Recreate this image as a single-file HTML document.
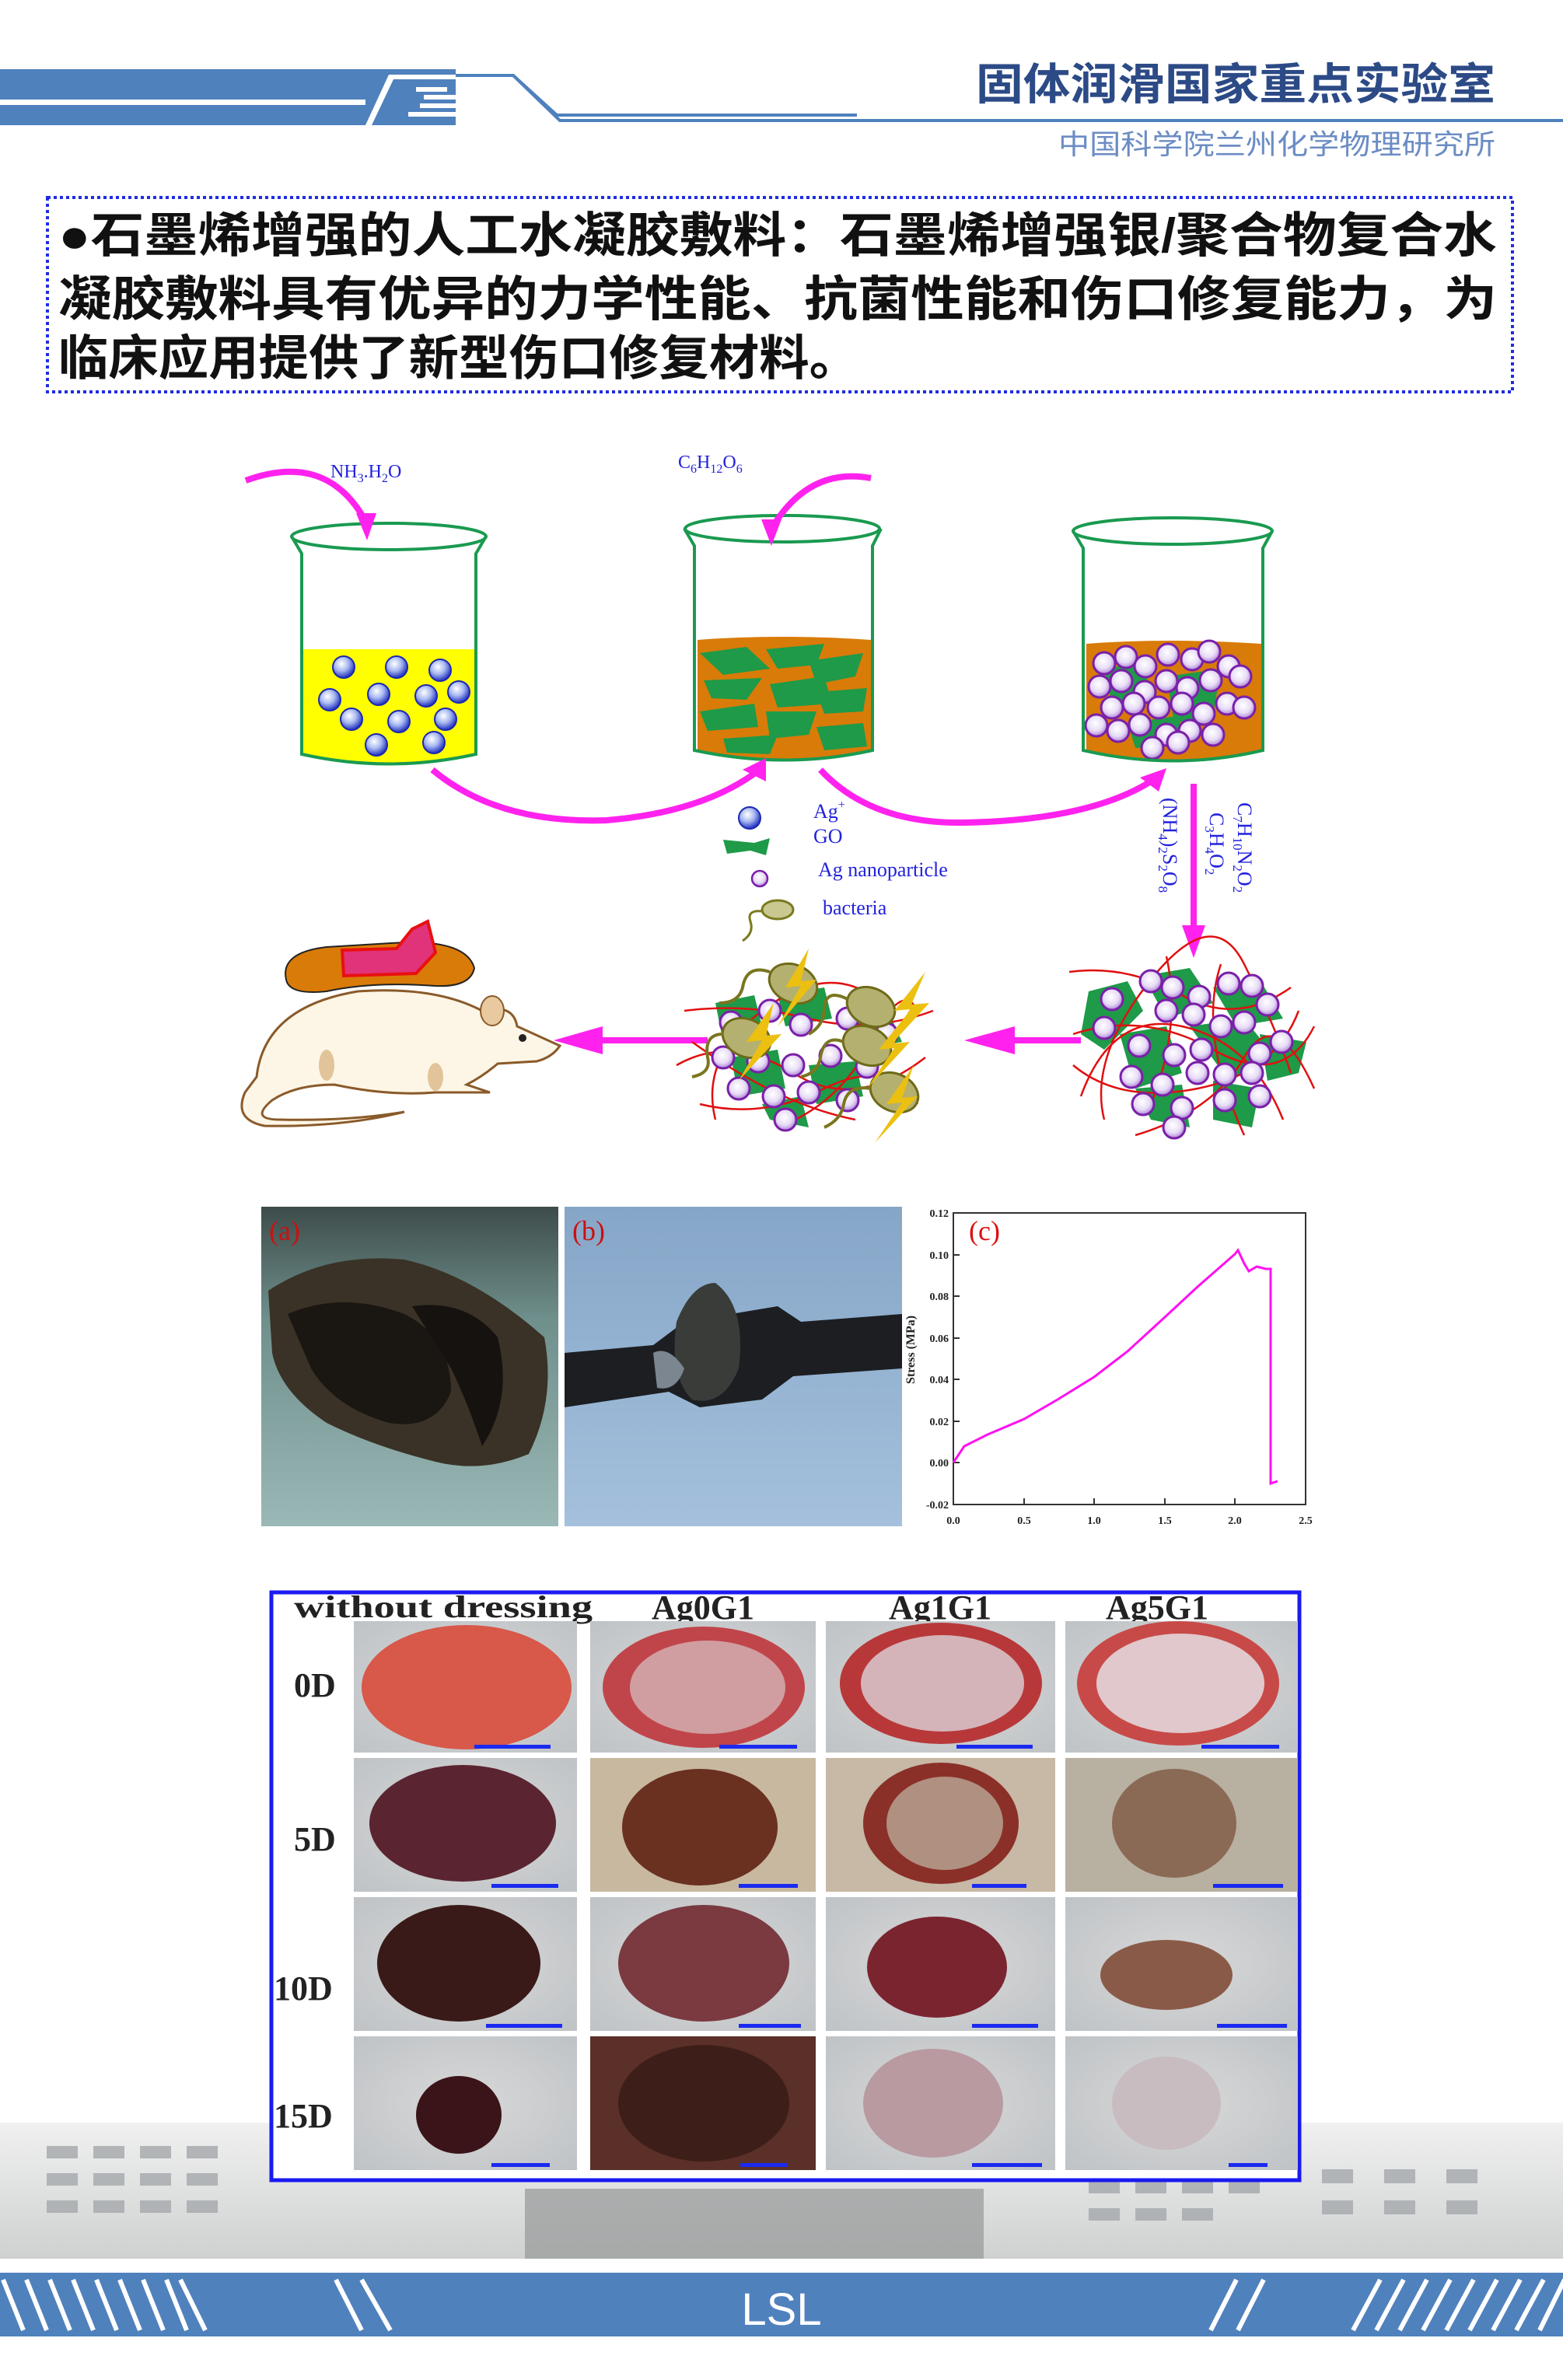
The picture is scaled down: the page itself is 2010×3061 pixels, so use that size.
<!DOCTYPE html>
<html><head><meta charset="utf-8">
<style>
html,body{margin:0;padding:0;background:#fff;}
svg{display:block;}
.cn{font-family:"Liberation Sans","Noto Sans CJK SC",sans-serif;}
.sr{font-family:"Liberation Serif",serif;}
</style></head>
<body>
<svg width="2010" height="3061" viewBox="0 0 2010 3061" xmlns="http://www.w3.org/2000/svg">
<defs>
<radialGradient id="bb" cx="40%" cy="35%" r="65%"><stop offset="0" stop-color="#fff"/><stop offset="0.5" stop-color="#a8b8f0"/><stop offset="1" stop-color="#2030c0"/></radialGradient>
<radialGradient id="pb" cx="45%" cy="40%" r="65%"><stop offset="0" stop-color="#fff"/><stop offset="0.55" stop-color="#e8dcf6"/><stop offset="1" stop-color="#a070d0"/></radialGradient>
<linearGradient id="pa" x1="0" y1="0" x2="0" y2="1"><stop offset="0" stop-color="#3d4c4a"/><stop offset="0.35" stop-color="#6f8f8c"/><stop offset="1" stop-color="#9ab8b6"/></linearGradient>
<linearGradient id="pbg" x1="0" y1="0" x2="0" y2="1"><stop offset="0" stop-color="#86a6c8"/><stop offset="1" stop-color="#a4c0dc"/></linearGradient>
<radialGradient id="fur" cx="50%" cy="50%" r="70%"><stop offset="0" stop-color="#d8d8d8"/><stop offset="1" stop-color="#bfc3c6"/></radialGradient>
<linearGradient id="bld" x1="0" y1="0" x2="0" y2="1"><stop offset="0" stop-color="#f0f0f0"/><stop offset="1" stop-color="#cfd1d1"/></linearGradient>
<g id="ball"><circle r="14" fill="url(#pb)" stroke="#7a20a8" stroke-width="3"/></g>
<g id="bball"><circle r="14" fill="url(#bb)" stroke="#1a28b0" stroke-width="2"/></g>
</defs>

<!-- HEADER -->
<rect x="0" y="89" width="586" height="72" fill="#4f81bd"/>
<rect x="0" y="128" width="470" height="7" fill="#fff"/>
<polygon points="470,161 500,96 586,96 586,102 506,102 478,161" fill="#fff"/>
<rect x="535" y="112" width="40" height="6" fill="#fff"/>
<rect x="545" y="122" width="45" height="6" fill="#fff"/>
<rect x="540" y="133" width="60" height="6" fill="#fff"/>
<rect x="525" y="144" width="80" height="6" fill="#fff"/>
<polyline points="586,97 660,97 716,148 1102,148" fill="none" stroke="#4f81bd" stroke-width="4"/>
<polyline points="660,97 720,155 2010,155" fill="none" stroke="#4f81bd" stroke-width="4"/>
<text x="1923" y="128" text-anchor="end" class="cn" font-size="56" font-weight="bold" fill="#2c4a86" textLength="668" lengthAdjust="spacingAndGlyphs">固体润滑国家重点实验室</text>
<text x="1923" y="198" text-anchor="end" class="cn" font-size="36" fill="#6b8cc4" textLength="562" lengthAdjust="spacingAndGlyphs">中国科学院兰州化学物理研究所</text>

<!-- TEXT BOX -->
<rect x="61" y="254" width="1884" height="250" fill="none" stroke="#1f2ee0" stroke-width="4" stroke-dasharray="4,4"/>
<text x="75" y="324" class="cn" font-size="62" font-weight="bold" fill="#111" textLength="1850" lengthAdjust="spacingAndGlyphs">●石墨烯增强的人工水凝胶敷料：石墨烯增强银/聚合物复合水</text>
<text x="75" y="406" class="cn" font-size="62" font-weight="bold" fill="#111" textLength="1850" lengthAdjust="spacingAndGlyphs">凝胶敷料具有优异的力学性能、抗菌性能和伤口修复能力，为</text>
<text x="75" y="482" class="cn" font-size="62" font-weight="bold" fill="#111" textLength="1030" lengthAdjust="spacingAndGlyphs">临床应用提供了新型伤口修复材料。</text>

<!-- SCHEMATIC -->
<path d="M390,835 L610,835 L610,970 Q500,992 390,970 Z" fill="#ffff00"/>
<path d="M375,690 L388,712 L388,970 Q500,995 612,970 L612,712 L625,690" fill="none" stroke="#1a9a50" stroke-width="4"/>
<ellipse cx="500" cy="690" rx="125" ry="17" fill="none" stroke="#1a9a50" stroke-width="4"/>
<g>
<use href="#bball" x="442" y="858"/><use href="#bball" x="510" y="858"/><use href="#bball" x="566" y="862"/>
<use href="#bball" x="424" y="900"/><use href="#bball" x="487" y="893"/><use href="#bball" x="548" y="895"/><use href="#bball" x="590" y="890"/>
<use href="#bball" x="452" y="925"/><use href="#bball" x="513" y="928"/><use href="#bball" x="573" y="925"/>
<use href="#bball" x="484" y="958"/><use href="#bball" x="558" y="955"/>
</g>
<path d="M897,823 Q1000,815 1120,823 L1120,965 Q1010,988 897,965 Z" fill="#d97b08"/>
<g fill="#1e9a48">
<polygon points="900,840 960,832 990,860 930,868"/><polygon points="985,835 1060,828 1050,855 1000,860"/>
<polygon points="1040,850 1110,840 1100,870 1050,880"/><polygon points="905,875 980,872 960,900 915,898"/>
<polygon points="990,880 1060,870 1070,905 1000,910"/><polygon points="900,915 970,905 975,935 910,940"/>
<polygon points="985,915 1050,915 1040,945 990,950"/><polygon points="1050,890 1115,885 1110,915 1060,918"/>
<polygon points="930,950 1000,945 990,970 935,968"/><polygon points="1050,935 1110,930 1115,960 1060,965"/>
</g>
<path d="M880,680 L893,702 L893,965 Q1010,990 1122,965 L1122,702 L1133,680" fill="none" stroke="#1a9a50" stroke-width="4"/>
<ellipse cx="1006" cy="680" rx="125" ry="17" fill="none" stroke="#1a9a50" stroke-width="4"/>
<path d="M1397,828 Q1500,820 1622,828 L1622,965 Q1510,990 1397,965 Z" fill="#d97b08"/>
<g fill="#1e9a48"><polygon points="1420,860 1480,850 1470,900 1430,905"/><polygon points="1500,870 1570,860 1560,920 1510,930"/><polygon points="1450,930 1520,920 1510,960 1460,962"/></g>
<g>
<use href="#ball" x="1420" y="853"/><use href="#ball" x="1448" y="845"/><use href="#ball" x="1473" y="857"/><use href="#ball" x="1502" y="842"/><use href="#ball" x="1533" y="848"/><use href="#ball" x="1555" y="838"/><use href="#ball" x="1580" y="857"/>
<use href="#ball" x="1414" y="883"/><use href="#ball" x="1442" y="876"/><use href="#ball" x="1472" y="890"/><use href="#ball" x="1500" y="876"/><use href="#ball" x="1527" y="885"/><use href="#ball" x="1557" y="875"/><use href="#ball" x="1595" y="870"/>
<use href="#ball" x="1430" y="910"/><use href="#ball" x="1458" y="905"/><use href="#ball" x="1490" y="910"/><use href="#ball" x="1520" y="905"/><use href="#ball" x="1548" y="918"/><use href="#ball" x="1578" y="905"/><use href="#ball" x="1600" y="910"/>
<use href="#ball" x="1410" y="933"/><use href="#ball" x="1438" y="940"/><use href="#ball" x="1466" y="932"/><use href="#ball" x="1500" y="945"/><use href="#ball" x="1530" y="940"/><use href="#ball" x="1560" y="945"/>
<use href="#ball" x="1482" y="962"/><use href="#ball" x="1515" y="955"/>
</g>
<path d="M1380,683 L1393,705 L1393,965 Q1510,992 1624,965 L1624,705 L1636,683" fill="none" stroke="#1a9a50" stroke-width="4"/>
<ellipse cx="1508" cy="683" rx="128" ry="17" fill="none" stroke="#1a9a50" stroke-width="4"/>

<g fill="none" stroke="#ff22ee" stroke-width="8">
<path d="M316,618 Q420,580 470,670"/>
<path d="M1120,615 Q1040,600 992,680"/>
<path d="M556,990 Q640,1060 780,1055 Q900,1045 970,995"/>
<path d="M1055,990 Q1120,1060 1240,1058 Q1400,1055 1480,1005"/>
<line x1="1535" y1="1008" x2="1535" y2="1195"/>
<line x1="1390" y1="1338" x2="1300" y2="1338"/>
<line x1="910" y1="1338" x2="770" y2="1338"/>
</g>
<g fill="#ff22ee">
<polygon points="458,660 484,660 472,695"/>
<polygon points="979,668 1005,668 992,702"/>
<polygon points="955,990 985,975 985,1005"/>
<polygon points="1466,1000 1500,988 1490,1018"/>
<polygon points="1520,1190 1550,1190 1535,1232"/>
<polygon points="1305,1320 1305,1356 1240,1338"/>
<polygon points="775,1320 775,1356 712,1338"/>
</g>
<g class="sr" fill="#2222dd">
<text x="425" y="614" font-size="24">NH<tspan font-size="16" dy="6">3</tspan><tspan dy="-6">.H</tspan><tspan font-size="16" dy="6">2</tspan><tspan dy="-6">O</tspan></text>
<text x="872" y="602" font-size="24">C<tspan font-size="16" dy="6">6</tspan><tspan dy="-6">H</tspan><tspan font-size="16" dy="6">12</tspan><tspan dy="-6">O</tspan><tspan font-size="16" dy="6">6</tspan></text>
<text x="1046" y="1052" font-size="26">Ag<tspan font-size="16" dy="-12">+</tspan></text>
<text x="1046" y="1084" font-size="26">GO</text>
<text x="1052" y="1127" font-size="26">Ag nanoparticle</text>
<text x="1058" y="1176" font-size="26">bacteria</text>
<text transform="translate(1592,1032) rotate(90)" font-size="26">C<tspan font-size="17" dy="6">7</tspan><tspan dy="-6">H</tspan><tspan font-size="17" dy="6">10</tspan><tspan dy="-6">N</tspan><tspan font-size="17" dy="6">2</tspan><tspan dy="-6">O</tspan><tspan font-size="17" dy="6">2</tspan></text>
<text transform="translate(1556,1045) rotate(90)" font-size="26">C<tspan font-size="17" dy="6">3</tspan><tspan dy="-6">H</tspan><tspan font-size="17" dy="6">4</tspan><tspan dy="-6">O</tspan><tspan font-size="17" dy="6">2</tspan></text>
<text transform="translate(1496,1026) rotate(90)" font-size="26">(NH<tspan font-size="17" dy="6">4</tspan><tspan dy="-6">)</tspan><tspan font-size="17" dy="6">2</tspan><tspan dy="-6">S</tspan><tspan font-size="17" dy="6">2</tspan><tspan dy="-6">O</tspan><tspan font-size="17" dy="6">8</tspan></text>
</g>
<use href="#bball" x="964" y="1052"/>
<polygon points="930,1080 970,1084 990,1078 985,1100 965,1094 935,1098" fill="#1e9a48"/>
<circle cx="977" cy="1130" r="10" fill="url(#pb)" stroke="#7a20a8" stroke-width="2.5"/>
<ellipse cx="1000" cy="1170" rx="20" ry="12" fill="#c8c890" stroke="#7a7a20" stroke-width="3"/>
<path d="M980,1172 Q960,1170 965,1185 Q970,1200 955,1210" fill="none" stroke="#7a7a20" stroke-width="3"/>

<!-- right gel -->
<g>
<g fill="#1e9a48">
<polygon points="1400,1275 1450,1262 1470,1300 1420,1350 1390,1330"/>
<polygon points="1470,1255 1530,1245 1560,1290 1500,1310"/>
<polygon points="1560,1270 1620,1260 1650,1310 1590,1320"/>
<polygon points="1440,1330 1500,1320 1520,1380 1460,1400"/>
<polygon points="1530,1320 1600,1310 1640,1360 1580,1390"/>
<polygon points="1620,1330 1680,1340 1670,1380 1630,1390"/>
<polygon points="1460,1400 1520,1395 1530,1450 1480,1440"/>
<polygon points="1560,1390 1620,1400 1610,1450 1560,1440"/>
</g>
<g fill="none" stroke="#e01010" stroke-width="2.5">
<path d="M1375,1250 Q1450,1240 1520,1280 T1660,1270"/>
<path d="M1380,1330 Q1470,1300 1560,1350 T1690,1320"/>
<path d="M1390,1410 Q1430,1300 1520,1320 T1650,1440"/>
<path d="M1420,1440 Q1400,1360 1480,1260 T1600,1240 T1660,1380"/>
<path d="M1460,1460 Q1560,1430 1600,1360 T1690,1400"/>
<path d="M1380,1370 Q1440,1420 1540,1400 T1670,1300"/>
<path d="M1500,1230 Q1520,1320 1480,1420"/>
<path d="M1570,1240 Q1540,1330 1600,1460"/>
</g>
<use href="#ball" x="1430" y="1285"/><use href="#ball" x="1480" y="1262"/><use href="#ball" x="1508" y="1270"/><use href="#ball" x="1542" y="1282"/><use href="#ball" x="1580" y="1265"/><use href="#ball" x="1610" y="1268"/><use href="#ball" x="1630" y="1292"/>
<use href="#ball" x="1420" y="1322"/><use href="#ball" x="1500" y="1300"/><use href="#ball" x="1535" y="1305"/><use href="#ball" x="1570" y="1320"/><use href="#ball" x="1600" y="1315"/><use href="#ball" x="1648" y="1340"/>
<use href="#ball" x="1465" y="1345"/><use href="#ball" x="1510" y="1357"/><use href="#ball" x="1545" y="1350"/><use href="#ball" x="1620" y="1355"/>
<use href="#ball" x="1455" y="1385"/><use href="#ball" x="1495" y="1395"/><use href="#ball" x="1540" y="1380"/><use href="#ball" x="1575" y="1382"/><use href="#ball" x="1610" y="1380"/>
<use href="#ball" x="1470" y="1420"/><use href="#ball" x="1520" y="1425"/><use href="#ball" x="1575" y="1415"/><use href="#ball" x="1620" y="1410"/>
<use href="#ball" x="1510" y="1450"/>
</g>

<!-- middle gel -->
<g>
<g fill="#1e9a48">
<polygon points="920,1290 970,1280 980,1320 930,1340"/>
<polygon points="1000,1280 1060,1270 1070,1310 1010,1320"/>
<polygon points="1080,1300 1140,1295 1160,1340 1100,1350"/>
<polygon points="940,1360 1000,1350 1010,1400 950,1410"/>
<polygon points="1040,1370 1100,1365 1110,1410 1050,1420"/>
<polygon points="980,1420 1030,1410 1040,1450 990,1440"/>
</g>
<g fill="none" stroke="#e01010" stroke-width="2.5">
<path d="M880,1300 Q960,1290 1040,1310 T1200,1300"/>
<path d="M870,1370 Q940,1330 1020,1380 T1190,1360"/>
<path d="M900,1420 Q980,1440 1060,1400 T1180,1420"/>
<path d="M920,1440 Q900,1360 980,1300 T1120,1280"/>
<path d="M1000,1450 Q1080,1420 1120,1340 T1180,1300"/>
<path d="M890,1340 Q1000,1420 1100,1440"/>
</g>
<use href="#ball" x="940" y="1315"/><use href="#ball" x="990" y="1300"/><use href="#ball" x="1030" y="1318"/><use href="#ball" x="1090" y="1310"/><use href="#ball" x="1140" y="1330"/>
<use href="#ball" x="930" y="1360"/><use href="#ball" x="975" y="1365"/><use href="#ball" x="1020" y="1370"/><use href="#ball" x="1068" y="1358"/><use href="#ball" x="1115" y="1372"/>
<use href="#ball" x="950" y="1400"/><use href="#ball" x="995" y="1410"/><use href="#ball" x="1040" y="1405"/><use href="#ball" x="1090" y="1415"/><use href="#ball" x="1010" y="1440"/>
<g fill="#b4b070" stroke="#6e6a18" stroke-width="3">
<ellipse cx="1020" cy="1265" rx="32" ry="24" transform="rotate(25 1020 1265)"/>
<ellipse cx="1120" cy="1295" rx="32" ry="24" transform="rotate(25 1120 1295)"/>
<ellipse cx="960" cy="1335" rx="32" ry="24" transform="rotate(25 960 1335)"/>
<ellipse cx="1115" cy="1345" rx="32" ry="24" transform="rotate(25 1115 1345)"/>
<ellipse cx="1150" cy="1405" rx="32" ry="24" transform="rotate(25 1150 1405)"/>
</g>
<g fill="#ecc010">
<polygon points="1040,1220 1010,1270 1030,1268 1000,1320 1050,1260 1030,1262"/>
<polygon points="1190,1250 1150,1300 1170,1298 1140,1350 1195,1290 1172,1292"/>
<polygon points="995,1290 960,1340 980,1338 950,1390 1005,1330 985,1332"/>
<polygon points="1170,1300 1130,1350 1150,1348 1115,1400 1170,1340 1150,1342"/>
<polygon points="1175,1370 1140,1420 1160,1418 1125,1470 1180,1410 1160,1412"/>
</g>
<g fill="none" stroke="#7a7620" stroke-width="4">
<path d="M990,1250 Q960,1240 955,1270 Q950,1290 925,1290"/>
<path d="M1090,1285 Q1060,1270 1060,1300 Q1058,1320 1040,1330"/>
<path d="M930,1330 Q905,1330 910,1360 Q915,1380 890,1385"/>
<path d="M1085,1340 Q1060,1330 1055,1360 Q1052,1380 1030,1385"/>
<path d="M1120,1400 Q1090,1395 1085,1420 Q1082,1440 1060,1450"/>
</g>
</g>

<!-- rat and pad -->
<path d="M368,1260 Q360,1225 420,1218 L520,1212 Q600,1210 610,1245 Q605,1270 560,1268 Q480,1262 420,1275 Q372,1280 368,1260 Z" fill="#d97b08" stroke="#222" stroke-width="2"/>
<path d="M440,1222 L510,1220 L530,1195 L550,1185 L560,1225 L535,1252 L442,1255 Z" fill="#e0337a" stroke="#e81010" stroke-width="4"/>
<path d="M330,1385 Q340,1295 460,1275 Q560,1268 620,1300 Q660,1290 665,1320 L720,1345 Q710,1360 690,1365 L640,1368 Q620,1385 600,1395 L630,1405 L560,1405 Q500,1410 430,1395 Q380,1395 350,1415 Q320,1440 360,1440 Q450,1442 520,1430 Q440,1450 340,1448 Q300,1440 315,1405 Z" fill="#fdf6e6" stroke="#8a5a2a" stroke-width="3"/>
<ellipse cx="633" cy="1300" rx="15" ry="19" fill="#e8c9a0" stroke="#8a5a2a" stroke-width="2"/>
<circle cx="672" cy="1335" r="5" fill="#222"/>
<ellipse cx="420" cy="1370" rx="10" ry="20" fill="#e2c49a"/>
<ellipse cx="560" cy="1385" rx="10" ry="18" fill="#e2c49a"/>

<!-- PHOTOS -->
<rect x="336" y="1552" width="382" height="411" fill="url(#pa)"/>
<path d="M345,1660 Q420,1610 520,1620 Q610,1640 700,1720 Q715,1800 680,1870 Q620,1895 560,1880 Q480,1860 420,1830 Q360,1790 350,1740 Z" fill="#3a3226"/>
<path d="M370,1690 Q440,1660 520,1690 Q580,1720 580,1790 Q560,1840 500,1830 Q430,1810 400,1760 Z" fill="#1a1612"/>
<path d="M530,1680 Q600,1670 640,1720 Q660,1800 620,1860 Q600,1800 580,1760 Z" fill="#151210"/>
<text x="346" y="1595" class="sr" font-size="36" fill="#cc1010">(a)</text>
<rect x="726" y="1552" width="434" height="411" fill="url(#pbg)"/>
<path d="M726,1740 L840,1730 L880,1700 L1000,1680 L1030,1700 L1160,1690 L1160,1760 L1020,1770 L980,1800 L900,1810 L860,1790 L726,1810 Z" fill="#1c1e22"/>
<path d="M870,1700 Q890,1650 920,1650 Q960,1680 950,1760 Q930,1810 890,1800 Q860,1770 870,1700 Z" fill="#3a3c3a"/>
<path d="M840,1740 Q860,1730 880,1760 Q870,1790 845,1785 Z" fill="#7c8690"/>
<text x="736" y="1595" class="sr" font-size="36" fill="#cc1010">(b)</text>

<!-- PLOT -->
<rect x="1226" y="1560" width="453" height="375" fill="none" stroke="#333" stroke-width="2"/>
<g stroke="#333" stroke-width="2">
<line x1="1226" y1="1614" x2="1234" y2="1614"/><line x1="1226" y1="1667" x2="1234" y2="1667"/><line x1="1226" y1="1721" x2="1234" y2="1721"/><line x1="1226" y1="1774" x2="1234" y2="1774"/><line x1="1226" y1="1828" x2="1234" y2="1828"/><line x1="1226" y1="1881" x2="1234" y2="1881"/>
<line x1="1317" y1="1935" x2="1317" y2="1927"/><line x1="1407" y1="1935" x2="1407" y2="1927"/><line x1="1498" y1="1935" x2="1498" y2="1927"/><line x1="1588" y1="1935" x2="1588" y2="1927"/>
</g>
<g class="sr" font-size="14" font-weight="bold" fill="#222" text-anchor="end">
<text x="1220" y="1565">0.12</text><text x="1220" y="1619">0.10</text><text x="1220" y="1672">0.08</text><text x="1220" y="1726">0.06</text><text x="1220" y="1779">0.04</text><text x="1220" y="1833">0.02</text><text x="1220" y="1886">0.00</text><text x="1220" y="1940">-0.02</text>
</g>
<g class="sr" font-size="14" font-weight="bold" fill="#222" text-anchor="middle">
<text x="1226" y="1960">0.0</text><text x="1317" y="1960">0.5</text><text x="1407" y="1960">1.0</text><text x="1498" y="1960">1.5</text><text x="1588" y="1960">2.0</text><text x="1679" y="1960">2.5</text>
</g>
<text transform="translate(1176,1780) rotate(-90)" class="sr" font-size="16" font-weight="bold" fill="#222">Stress (MPa)</text>
<text x="1246" y="1595" class="sr" font-size="36" fill="#dd1010">(c)</text>
<polyline points="1226,1881 1240,1860 1270,1845 1317,1825 1360,1800 1407,1771 1450,1738 1498,1694 1540,1655 1588,1613 1592,1608 1600,1625 1606,1635 1616,1629 1628,1632 1634,1632 1634,1908 1643,1905" fill="none" stroke="#ff10f0" stroke-width="3"/>

<!-- BUILDING BACKGROUND -->
<path d="M0,2730 L2010,2730 L2010,2905 L0,2905 Z" fill="url(#bld)"/>
<g fill="#a8acaf" opacity="0.85">
<rect x="60" y="2760" width="40" height="16"/><rect x="120" y="2760" width="40" height="16"/><rect x="180" y="2760" width="40" height="16"/><rect x="240" y="2760" width="40" height="16"/>
<rect x="60" y="2795" width="40" height="16"/><rect x="120" y="2795" width="40" height="16"/><rect x="180" y="2795" width="40" height="16"/><rect x="240" y="2795" width="40" height="16"/>
<rect x="60" y="2830" width="40" height="16"/><rect x="120" y="2830" width="40" height="16"/><rect x="180" y="2830" width="40" height="16"/><rect x="240" y="2830" width="40" height="16"/>
<rect x="1400" y="2805" width="40" height="16"/><rect x="1460" y="2805" width="40" height="16"/><rect x="1520" y="2805" width="40" height="16"/><rect x="1580" y="2805" width="40" height="16"/><rect x="1700" y="2790" width="40" height="18"/><rect x="1780" y="2790" width="40" height="18"/><rect x="1860" y="2790" width="40" height="18"/>
<rect x="1400" y="2840" width="40" height="16"/><rect x="1460" y="2840" width="40" height="16"/><rect x="1520" y="2840" width="40" height="16"/><rect x="1700" y="2830" width="40" height="18"/><rect x="1780" y="2830" width="40" height="18"/><rect x="1860" y="2830" width="40" height="18"/>
</g>
<rect x="675" y="2815" width="590" height="90" fill="#9a9c9c" opacity="0.75"/>

<!-- WOUND GRID -->
<rect x="349" y="2048" width="1322" height="756" fill="#fff" stroke="#1a1af0" stroke-width="5"/>
<g class="sr" font-size="44" fill="#222" font-weight="bold">
<text x="378" y="2080" textLength="384" lengthAdjust="spacingAndGlyphs" font-size="40">without dressing</text>
<text x="838" y="2082">Ag0G1</text><text x="1143" y="2082">Ag1G1</text><text x="1422" y="2082">Ag5G1</text>
<text x="378" y="2182">0D</text><text x="378" y="2380">5D</text><text x="352" y="2572">10D</text><text x="352" y="2736">15D</text>
</g>
<g fill="url(#fur)">
<rect x="455" y="2085" width="287" height="169"/><rect x="759" y="2085" width="290" height="169"/><rect x="1062" y="2085" width="295" height="169"/><rect x="1370" y="2085" width="299" height="169"/>
<rect x="455" y="2261" width="287" height="172"/><rect x="759" y="2261" width="290" height="172"/><rect x="1062" y="2261" width="295" height="172"/><rect x="1370" y="2261" width="299" height="172"/>
<rect x="455" y="2440" width="287" height="172"/><rect x="759" y="2440" width="290" height="172"/><rect x="1062" y="2440" width="295" height="172"/><rect x="1370" y="2440" width="299" height="172"/>
<rect x="455" y="2619" width="287" height="172"/><rect x="759" y="2619" width="290" height="172"/><rect x="1062" y="2619" width="295" height="172"/><rect x="1370" y="2619" width="299" height="172"/>
</g>
<ellipse cx="600" cy="2170" rx="135" ry="80" fill="#d8584a"/>
<ellipse cx="905" cy="2170" rx="130" ry="78" fill="#c0454a"/><ellipse cx="910" cy="2170" rx="100" ry="60" fill="#d09ea0"/>
<ellipse cx="1210" cy="2165" rx="130" ry="78" fill="#b8383a"/><ellipse cx="1212" cy="2165" rx="105" ry="62" fill="#d4b4b8"/>
<ellipse cx="1515" cy="2165" rx="130" ry="80" fill="#c84a48"/><ellipse cx="1518" cy="2165" rx="108" ry="64" fill="#e0c8cc"/>
<rect x="759" y="2261" width="290" height="172" fill="#c8b8a0"/>
<rect x="1062" y="2261" width="295" height="172" fill="#c8b8a6"/>
<rect x="1370" y="2261" width="299" height="172" fill="#b8b0a0"/>
<ellipse cx="595" cy="2345" rx="120" ry="75" fill="#5a2430"/>
<ellipse cx="900" cy="2350" rx="100" ry="75" fill="#6a3020"/>
<ellipse cx="1210" cy="2345" rx="100" ry="78" fill="#8a3028"/><ellipse cx="1215" cy="2345" rx="75" ry="60" fill="#b09080"/>
<ellipse cx="1510" cy="2345" rx="80" ry="70" fill="#8a6a55"/>
<ellipse cx="590" cy="2525" rx="105" ry="75" fill="#3a1a18"/>
<ellipse cx="905" cy="2525" rx="110" ry="75" fill="#7a3a40"/>
<ellipse cx="1205" cy="2530" rx="90" ry="65" fill="#7a2430"/>
<ellipse cx="1500" cy="2540" rx="85" ry="45" fill="#8a5a48"/>
<ellipse cx="590" cy="2720" rx="55" ry="50" fill="#3a1418"/>
<rect x="759" y="2619" width="290" height="172" fill="#5a3028"/>
<ellipse cx="905" cy="2705" rx="110" ry="75" fill="#3e1e18"/>
<ellipse cx="1200" cy="2705" rx="90" ry="70" fill="#b89aa0"/>
<ellipse cx="1500" cy="2705" rx="70" ry="60" fill="#c8bcc0"/>
<g fill="#1a2af0">
<rect x="610" y="2244" width="98" height="5"/><rect x="925" y="2244" width="100" height="5"/><rect x="1230" y="2244" width="98" height="5"/><rect x="1545" y="2244" width="100" height="5"/>
<rect x="632" y="2423" width="86" height="5"/><rect x="950" y="2423" width="76" height="5"/><rect x="1250" y="2423" width="70" height="5"/><rect x="1560" y="2423" width="90" height="5"/>
<rect x="625" y="2603" width="98" height="5"/><rect x="950" y="2603" width="80" height="5"/><rect x="1250" y="2603" width="85" height="5"/><rect x="1565" y="2603" width="90" height="5"/>
<rect x="632" y="2782" width="75" height="5"/><rect x="952" y="2782" width="60" height="5"/><rect x="1250" y="2782" width="90" height="5"/><rect x="1580" y="2782" width="50" height="5"/>
</g>

<!-- FOOTER -->
<rect x="0" y="2923" width="2010" height="82" fill="#4f81bd"/>
<g stroke="#fff" stroke-width="6">
<line x1="4" y1="2932" x2="30" y2="2997"/><line x1="34" y1="2932" x2="60" y2="2997"/><line x1="64" y1="2932" x2="90" y2="2997"/><line x1="94" y1="2932" x2="120" y2="2997"/><line x1="124" y1="2932" x2="150" y2="2997"/><line x1="154" y1="2932" x2="180" y2="2997"/><line x1="184" y1="2932" x2="210" y2="2997"/><line x1="214" y1="2932" x2="240" y2="2997"/><line x1="232" y1="2932" x2="264" y2="2997"/>
<line x1="432" y1="2932" x2="465" y2="2997"/><line x1="465" y1="2932" x2="502" y2="2997"/>
<line x1="1590" y1="2932" x2="1557" y2="2997"/><line x1="1625" y1="2932" x2="1592" y2="2997"/>
<line x1="1775" y1="2932" x2="1740" y2="2997"/><line x1="1805" y1="2932" x2="1770" y2="2997"/><line x1="1835" y1="2932" x2="1800" y2="2997"/><line x1="1865" y1="2932" x2="1830" y2="2997"/><line x1="1895" y1="2932" x2="1860" y2="2997"/><line x1="1925" y1="2932" x2="1890" y2="2997"/><line x1="1955" y1="2932" x2="1920" y2="2997"/><line x1="1985" y1="2932" x2="1950" y2="2997"/><line x1="2012" y1="2932" x2="1980" y2="2997"/>
</g>
<text x="1005" y="2990" text-anchor="middle" class="cn" font-size="58" fill="#fff">LSL</text>
</svg>
</body></html>
